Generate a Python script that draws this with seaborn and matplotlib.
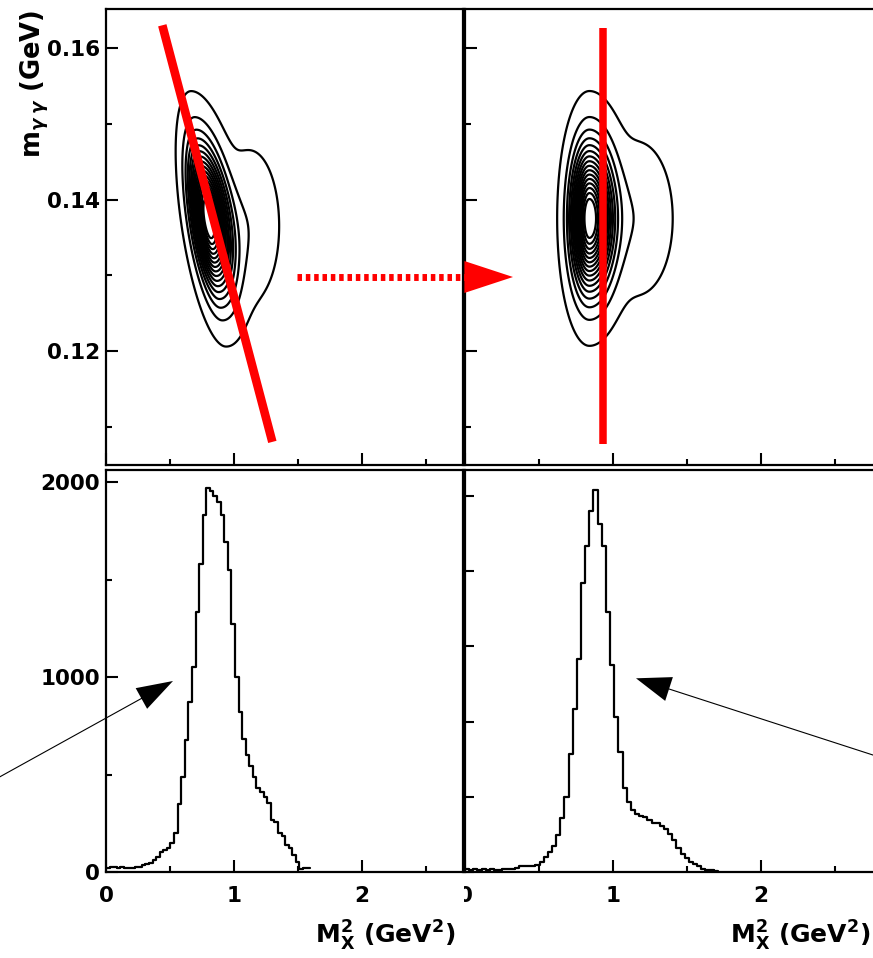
import numpy as np
import pandas as pd
import seaborn as sns
import matplotlib.pyplot as plt
from matplotlib.lines import Line2D
from matplotlib.patches import FancyArrowPatch, ArrowStyle
from matplotlib.ticker import FixedLocator, FormatStrFormatter, NullFormatter
from matplotlib.transforms import Bbox, TransformedBbox


# M_X^2 histograms (counts per bin), before the correction (left) and after (right)
bin_width = 0.028
counts_before = [22, 25, 28, 22, 25, 22, 20, 22, 28, 28,
                 35, 40, 45, 61, 75, 104, 115, 122, 148, 200,
                 349, 486, 677, 873, 1053, 1334, 1582, 1831, 1968, 1955,
                 1930, 1900, 1830, 1694, 1550, 1272, 1002, 822, 680, 600,
                 544, 485, 430, 410, 385, 355, 267, 255, 198, 185,
                 140, 121, 87, 53, 15, 20, 18]
counts_after = [15, 10, 15, 8, 15, 10, 15, 8, 12, 15,
                15, 18, 20, 30, 30, 30, 30, 35, 55, 80,
                105, 140, 195, 285, 400, 630, 865, 1135, 1535, 1735,
                1920, 2030, 1850, 1735, 1385, 1100, 827, 640, 445, 373,
                330, 308, 300, 290, 276, 262, 258, 244, 231, 204,
                169, 130, 98, 76, 53, 40, 30, 18, 12, 8, 5]

# 2D peak (M_X^2, m_gg)
peak_before = (0.80, 0.1375)
peak_after = (0.84, 0.1375)
peak_sigma_x = (0.075, 0.10)   # left / right of the ridge
peak_sigma_y = 0.0058
tilt_before = -8.0      # dx/dy of the ridge before the correction
tilt_after = 0.0
shoulder_before = (1.12, 0.1365)
shoulder_after = (1.17, 0.1375)
shoulder_sigma = (0.14, 0.006)
shoulder_weight = 0.06
contour_levels = [0.015, 0.07, 0.13, 0.19, 0.25, 0.31, 0.37, 0.43,
                  0.49, 0.55, 0.61, 0.67, 0.73, 0.79, 0.85, 0.91]

# red cut lines
cut_before_x = [0.44, 1.30]
cut_before_y = [0.163, 0.108]
cut_after_x = [0.93, 0.93]
cut_after_y = [0.1627, 0.1077]


def density(X, Y, peak, tilt, shoulder):
    u = (X - peak[0]) - tilt * (Y - peak[1])
    v = Y - peak[1]
    sx = np.where(u < 0, peak_sigma_x[0], peak_sigma_x[1])
    main = np.exp(-0.5 * ((u / sx) ** 2 + (v / peak_sigma_y) ** 2))
    su = X - shoulder[0]
    sv = Y - shoulder[1]
    side = shoulder_weight * np.exp(-0.5 * ((su / shoulder_sigma[0]) ** 2 + (sv / shoulder_sigma[1]) ** 2))
    return main + side


def hist_frame(counts):
    n = len(counts)
    df = pd.DataFrame({'m2': (np.arange(n) + 0.5) * bin_width, 'n': counts})
    return df, (0, n * bin_width)


sns.set_theme(style='ticks')
plt.rcParams['font.family'] = ['DejaVu Sans']
plt.rcParams['font.weight'] = 'bold'
plt.rcParams['mathtext.fontset'] = 'dejavusans'
for key in ['axes.edgecolor', 'xtick.color', 'ytick.color', 'text.color', 'axes.labelcolor']:
    plt.rcParams[key] = 'black'

W, H = 873, 958
fig = plt.figure(figsize=(W / 100, H / 100), dpi=100)


def rect(l, t, r, b):
    return [l / W, 1 - b / H, (r - l) / W, (b - t) / H]


ax_tl = fig.add_axes(rect(106, 9, 463, 465))
ax_tr = fig.add_axes(rect(465, 9, 878, 465))
ax_bl = fig.add_axes(rect(106, 470, 463, 872))
ax_br = fig.add_axes(rect(465, 470, 878, 872))

# contour panels
gx = np.linspace(0, 2.8, 600)
gy = np.linspace(0.10, 0.17, 600)
GX, GY = np.meshgrid(gx, gy)
ax_tl.contour(GX, GY, density(GX, GY, peak_before, tilt_before, shoulder_before),
              levels=contour_levels, colors='black', linewidths=1.6)
ax_tr.contour(GX, GY, density(GX, GY, peak_after, tilt_after, shoulder_after),
              levels=contour_levels, colors='black', linewidths=1.6)
ax_tl.plot(cut_before_x, cut_before_y, color='red', lw=6.2, solid_capstyle='butt', zorder=5)
ax_tr.plot(cut_after_x, cut_after_y, color='red', lw=5.4, solid_capstyle='butt', zorder=5)

# histograms
df_b, range_b = hist_frame(counts_before)
df_a, range_a = hist_frame(counts_after)
sns.histplot(data=df_b, x='m2', weights='n', binwidth=bin_width, binrange=range_b,
             element='step', fill=False, color='black', linewidth=1.6, ax=ax_bl)
sns.histplot(data=df_a, x='m2', weights='n', binwidth=bin_width, binrange=range_a,
             element='step', fill=False, color='black', linewidth=1.6, ax=ax_br)

for ax in [ax_tl, ax_tr, ax_bl, ax_br]:
    ax.set_xlabel('')
    ax.set_ylabel('')
    ax.grid(False)
    ax.set_facecolor('white')
    for s in ax.spines.values():
        s.set_visible(True)
        s.set_linewidth(1.6)
        s.set_color('black')
    ax.set_xlim(0, 2.79)
    ax.xaxis.set_major_locator(FixedLocator([0, 1, 2]))
    ax.xaxis.set_minor_locator(FixedLocator([0.5, 1.5, 2.5]))
    ax.tick_params(which='both', direction='in', top=False, right=False,
                   width=1.5, color='black', labelsize=15.5)
    ax.tick_params(which='major', length=8.6)
    ax.tick_params(which='minor', length=4.3)
    ax.tick_params(axis='x', pad=10)
    ax.tick_params(axis='y', pad=4.5)

for ax in [ax_tl, ax_tr]:
    ax.set_ylim(0.10495, 0.16515)
    ax.yaxis.set_major_locator(FixedLocator([0.12, 0.14, 0.16]))
    ax.yaxis.set_minor_locator(FixedLocator([0.11, 0.13, 0.15]))
    ax.xaxis.set_major_formatter(NullFormatter())
ax_tl.yaxis.set_major_formatter(FormatStrFormatter('%.2f'))
ax_tr.yaxis.set_major_formatter(NullFormatter())

ax_bl.set_ylim(0, 2062)
ax_bl.yaxis.set_major_locator(FixedLocator([0, 1000, 2000]))
ax_bl.yaxis.set_minor_locator(FixedLocator([500, 1500]))
ax_br.set_ylim(0, 2138)
ax_br.yaxis.set_major_locator(FixedLocator([0, 400, 800, 1200, 1600, 2000]))
ax_br.yaxis.set_minor_locator(FixedLocator([]))
ax_br.tick_params(axis='y', which='major', length=6.5)
ax_br.yaxis.set_major_formatter(NullFormatter())

# axis titles
xtitle = r'$\mathbf{M}^{\mathbf{2}}_{\mathbf{X}}$ (GeV$^{\mathbf{2}}$)'
ax_bl.text(0.978, -0.117, xtitle, transform=ax_bl.transAxes, ha='right', va='top',
           fontsize=18, fontweight='bold')
ax_br.text(0.983, -0.117, xtitle, transform=ax_br.transAxes, ha='right', va='top',
           fontsize=18, fontweight='bold')
ax_tl.text(-0.199, 0.998, r'$\mathbf{m}_{\gamma\;\gamma}$ (GeV)', transform=ax_tl.transAxes,
           rotation=90, ha='center', va='top', fontsize=18.5, fontweight='bold')

# red dotted arrow from the raw to the corrected plot
fy = 1 - 277 / H
fig.add_artist(Line2D([297 / W, 465 / W], [fy, fy], transform=fig.transFigure, color='red',
                      lw=5, dashes=(0.65, 0.55), dash_capstyle='butt'))
fig.add_artist(FancyArrowPatch((463 / W, fy), (513 / W, fy), transform=fig.transFigure,
                               arrowstyle=ArrowStyle.Simple(head_length=35, head_width=23, tail_width=0.01),
                               mutation_scale=1, color='red', lw=0, shrinkA=0, shrinkB=0))

# black arrows pointing at the peaks
fig.add_artist(FancyArrowPatch((-5 / W, 1 - 779.5 / H), (173 / W, 1 - 681 / H), transform=fig.transFigure,
                               arrowstyle=ArrowStyle.Simple(head_length=26, head_width=17, tail_width=0.8),
                               mutation_scale=1, color='black', lw=0, shrinkA=0, shrinkB=0))
fig.add_artist(FancyArrowPatch((880 / W, 1 - 757.3 / H), (636 / W, 1 - 678.3 / H), transform=fig.transFigure,
                               arrowstyle=ArrowStyle.Simple(head_length=25, head_width=18, tail_width=0.8),
                               mutation_scale=1, color='black', lw=0, shrinkA=0, shrinkB=0))

# the right panel's "0" is half hidden behind the left panel
zero_label = ax_br.xaxis.get_major_ticks()[0].label1
zero_label.set_clip_box(TransformedBbox(Bbox([[464 / W, 0], [1, 1]]), fig.transFigure))
zero_label.set_clip_on(True)

fig.savefig('out.png', dpi=100)
